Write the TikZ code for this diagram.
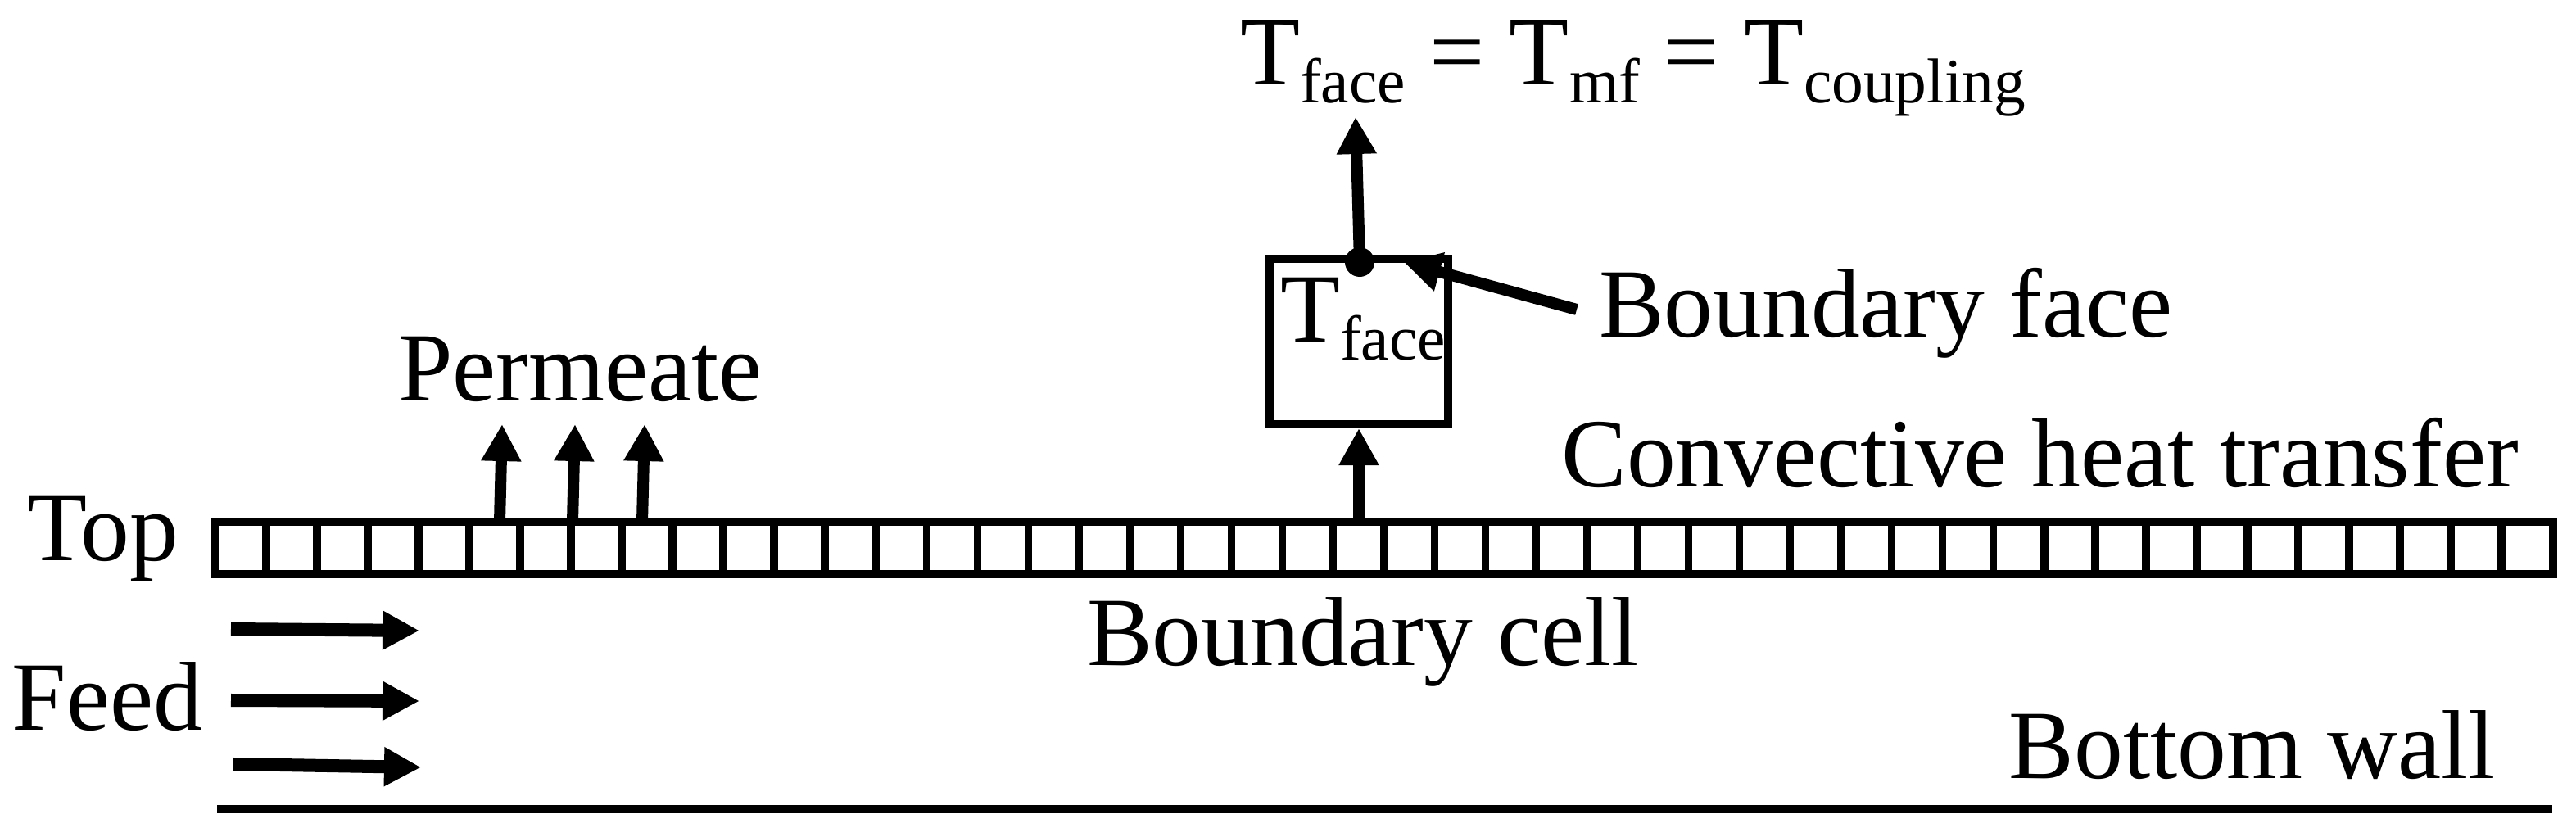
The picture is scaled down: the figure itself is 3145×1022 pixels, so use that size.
\documentclass[tikz,border=0pt]{standalone}
\usepackage{fontspec}
\setmainfont{Liberation Serif}
\usetikzlibrary{arrows.meta,calc}
\newcommand{\lbl}{\fontsize{34}{40}\selectfont}
\newcommand{\sbs}[1]{\raisebox{-6pt}{\fontsize{22}{24}\selectfont #1}}
\begin{document}
\begin{tikzpicture}[x=0.01cm,y=-0.01cm,
  txt/.style={inner sep=0pt,outer sep=0pt,font=\lbl},
  fat/.style={line width=0.14cm,-{Triangle[length=0.45cm,width=0.46cm]}},
  feedarrow/.style={line width=0.16cm,-{Triangle[length=0.45cm,width=0.45cm]}},
  thick line/.style={line width=0.1cm}]
\useasboundingbox (0,0) rectangle (3145,1022);
% cell row
\node[draw,thick line,minimum width=28.53cm,minimum height=0.64cm,inner sep=0pt] (row) at (1689.5,669) {};
\foreach \i in {1,...,45}{
  \draw[line width=0.095cm] (263+\i*62.02,637) -- (263+\i*62.02,701);
}
% bottom wall
\coordinate (bwl) at (265,988);
\coordinate (bwr) at (3116,988);
\draw[thick line] (bwl) -- (bwr);
% labels
\node[txt,anchor=base east] (top) at (218,685) {Top};
\node[txt,anchor=base east] (feed) at (247,892) {Feed};
\node[txt,anchor=base west] (perm) at (486,490) {Permeate};
\node[txt,anchor=base west] (bface) at (1952,412) {Boundary face};
\node[txt,anchor=base east] (conv) at (3075,595) {Convective heat transfer};
\node[txt,anchor=base west] (bcell) at (1327,812) {Boundary cell};
\node[txt,anchor=base east] (bwall) at (3047,950) {Bottom wall};
\node[txt,anchor=base west] (title) at (1514,104) {T\sbs{face} = T\sbs{mf} = T\sbs{coupling}};
% boundary face box
\node[draw,thick line,minimum width=2.18cm,minimum height=2.02cm,inner sep=0pt] (box) at (1659,417) {};
\node[txt,anchor=base west] (tface) at (1563,418) {T\sbs{face}};
% permeate arrows
\coordinate (p1a) at (610,637); \coordinate (p1b) at (613,518);
\coordinate (p2a) at (699,637); \coordinate (p2b) at (702,518);
\coordinate (p3a) at (784,637); \coordinate (p3b) at (787,518);
\draw[fat] (p1a) -- (p1b);
\draw[fat] (p2a) -- (p2b);
\draw[fat] (p3a) -- (p3b);
% convective arrow from boundary cell to box
\coordinate (cb) at (1659,637);
\draw[fat] (cb) -- (box.south);
% dot and up arrow
\coordinate (dot) at (1660,320);
\coordinate (upt) at (1655,143);
\draw[fat] (dot) -- (upt);
\fill (dot) circle (0.18cm);
% boundary face pointer
\coordinate (bfs) at (1925,378);
\coordinate (bft) at (1714,320);
\draw[fat] (bfs) -- (bft);
% feed arrows
\coordinate (f1a) at (282,768); \coordinate (f1b) at (512,770);
\coordinate (f2a) at (282,855); \coordinate (f2b) at (512,856);
\coordinate (f3a) at (285,933); \coordinate (f3b) at (514,937);
\draw[feedarrow] (f1a) -- (f1b);
\draw[feedarrow] (f2a) -- (f2b);
\draw[feedarrow] (f3a) -- (f3b);
\end{tikzpicture}
\end{document}
